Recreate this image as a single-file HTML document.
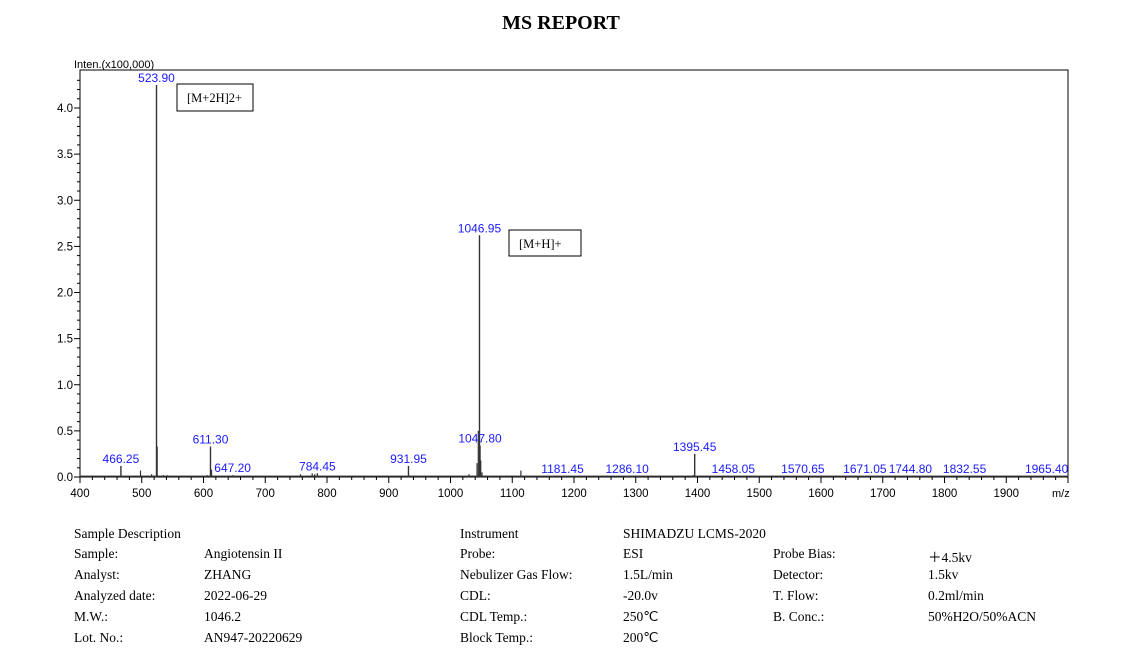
<!DOCTYPE html>
<html><head><meta charset="utf-8"><style>
body{margin:0;background:#fff;width:1122px;height:662px;overflow:hidden;position:relative;font-family:"Liberation Serif",serif;}
.t{position:absolute;font-size:13.5px;color:#000;white-space:nowrap;}
</style></head><body>
<div class="t" style="left:0;width:1122px;text-align:center;top:12px;font-size:20px;font-weight:bold;">MS REPORT</div>
<svg id="chart" width="1122" height="510" style="position:absolute;left:0;top:0" font-family="Liberation Sans, sans-serif"></svg>
<div>
<div class="t" style="left:74px;top:526px">Sample Description</div>
<div class="t" style="left:74px;top:546px">Sample:</div><div class="t" style="left:204px;top:546px">Angiotensin II</div>
<div class="t" style="left:74px;top:567px">Analyst:</div><div class="t" style="left:204px;top:567px">ZHANG</div>
<div class="t" style="left:74px;top:588px">Analyzed date:</div><div class="t" style="left:204px;top:588px">2022-06-29</div>
<div class="t" style="left:74px;top:609px">M.W.:</div><div class="t" style="left:204px;top:609px">1046.2</div>
<div class="t" style="left:74px;top:630px">Lot. No.:</div><div class="t" style="left:204px;top:630px">AN947-20220629</div>
</div>
<div>
<div class="t" style="left:460px;top:526px">Instrument</div><div class="t" style="left:623px;top:526px">SHIMADZU LCMS-2020</div>
<div class="t" style="left:460px;top:546px">Probe:</div><div class="t" style="left:623px;top:546px">ESI</div>
<div class="t" style="left:460px;top:567px">Nebulizer Gas Flow:</div><div class="t" style="left:623px;top:567px">1.5L/min</div>
<div class="t" style="left:460px;top:588px">CDL:</div><div class="t" style="left:623px;top:588px">-20.0v</div>
<div class="t" style="left:460px;top:609px">CDL Temp.:</div><div class="t" style="left:623px;top:609px">250℃</div>
<div class="t" style="left:460px;top:630px">Block Temp.:</div><div class="t" style="left:623px;top:630px">200℃</div>
<div class="t" style="left:773px;top:546px">Probe Bias:</div><div class="t" style="left:928px;top:546px">＋4.5kv</div>
<div class="t" style="left:773px;top:567px">Detector:</div><div class="t" style="left:928px;top:567px">1.5kv</div>
<div class="t" style="left:773px;top:588px">T. Flow:</div><div class="t" style="left:928px;top:588px">0.2ml/min</div>
<div class="t" style="left:773px;top:609px">B. Conc.:</div><div class="t" style="left:928px;top:609px">50%H2O/50%ACN</div>
</div>
<script>
const labeledMz=[466.25,523.90,611.30,647.20,784.45,931.95,1046.95,1047.80,1181.45,1286.10,1395.45,1458.05,1570.65,1671.05,1744.80,1832.55,1965.40];
const labeledInt=[0.12,4.25,0.33,0.02,0.04,0.12,2.62,0.34,0.01,0.01,0.25,0.01,0.01,0.01,0.01,0.01,0.01];
const minorMz=[498,516,525,535,541,606,613,757,776,780,1030,1043,1045,1049,1051,1114,1393,1398];
const minorInt=[0.07,0.03,0.33,0.02,0.02,0.02,0.08,0.03,0.04,0.03,0.03,0.15,0.5,0.18,0.05,0.07,0.02,0.01];
const xTicks=[400,500,600,700,800,900,1000,1100,1200,1300,1400,1500,1600,1700,1800,1900];
const yTicks=[0.0,0.5,1.0,1.5,2.0,2.5,3.0,3.5,4.0];
const L=80,R=1068,T=70,B=477;
const X=v=>L+(v-400)*(R-L)/1600;
const Y=v=>B-v*92.25;
const svg=document.getElementById('chart');const NS='http://www.w3.org/2000/svg';
function mk(tag,a,txt){const e=document.createElementNS(NS,tag);for(const k in a)e.setAttribute(k,a[k]);if(txt!==undefined)e.textContent=txt;svg.appendChild(e);return e;}
let e=mk('rect',{x:L,y:T,width:R-L,height:B-T,fill:'none',stroke:'#000','stroke-width':1});


e=mk('text',{x:74,y:68,'font-size':11,fill:'#000'},'Inten.(x100,000)');


e=mk('text',{x:1052,y:497,'font-size':11,fill:'#000'},'m/z');


for(let v=400;v<=2000;v+=20){const x=X(v);const maj=v%100===0;mk('line',{x1:x,x2:x,y1:B,y2:B+(maj?6:3),stroke:'#000'});}
xTicks.forEach(v=>{e=mk('text',{x:X(v),y:497,'font-size':11.5,'text-anchor':'middle'},String(v));

});
for(let i=0;i<=43;i++){const y=Y(i/10);const maj=i%5===0;mk('line',{x1:L-(maj?6:3),x2:L,y1:y,y2:y,stroke:'#000'});}
yTicks.forEach(v=>{e=mk('text',{x:L-7,y:Y(v)+4,'font-size':11.5,'text-anchor':'end'},v.toFixed(1));

});
// baseline noise
mk('line',{x1:L,x2:R,y1:B-1,y2:B-1,stroke:'#555','stroke-width':1});
minorMz.forEach((m,i)=>{e=mk('line',{x1:X(m),x2:X(m),y1:B,y2:Y(minorInt[i]),stroke:'#333','stroke-width':1.2});

});
labeledMz.forEach((m,i)=>{const x=X(m),top=Y(labeledInt[i]);
e=mk('line',{x1:x,x2:x,y1:B,y2:top,stroke:'#333','stroke-width':1.4});


const ly=Math.min(top-3,475);
e=mk('text',{x:x,y:ly,'font-size':12,fill:'#1a1aff','text-anchor':'middle'},m.toFixed(2));

});
e=mk('rect',{x:177,y:84,width:76,height:27,fill:'#fff',stroke:'#000'});


mk('text',{x:187,y:102,'font-size':12.5,'font-family':'Liberation Serif, serif'},'[M+2H]2+');
e=mk('rect',{x:509,y:230,width:72,height:26,fill:'#fff',stroke:'#000'});


mk('text',{x:519,y:248,'font-size':12.5,'font-family':'Liberation Serif, serif'},'[M+H]+');
</script>
</body></html>
